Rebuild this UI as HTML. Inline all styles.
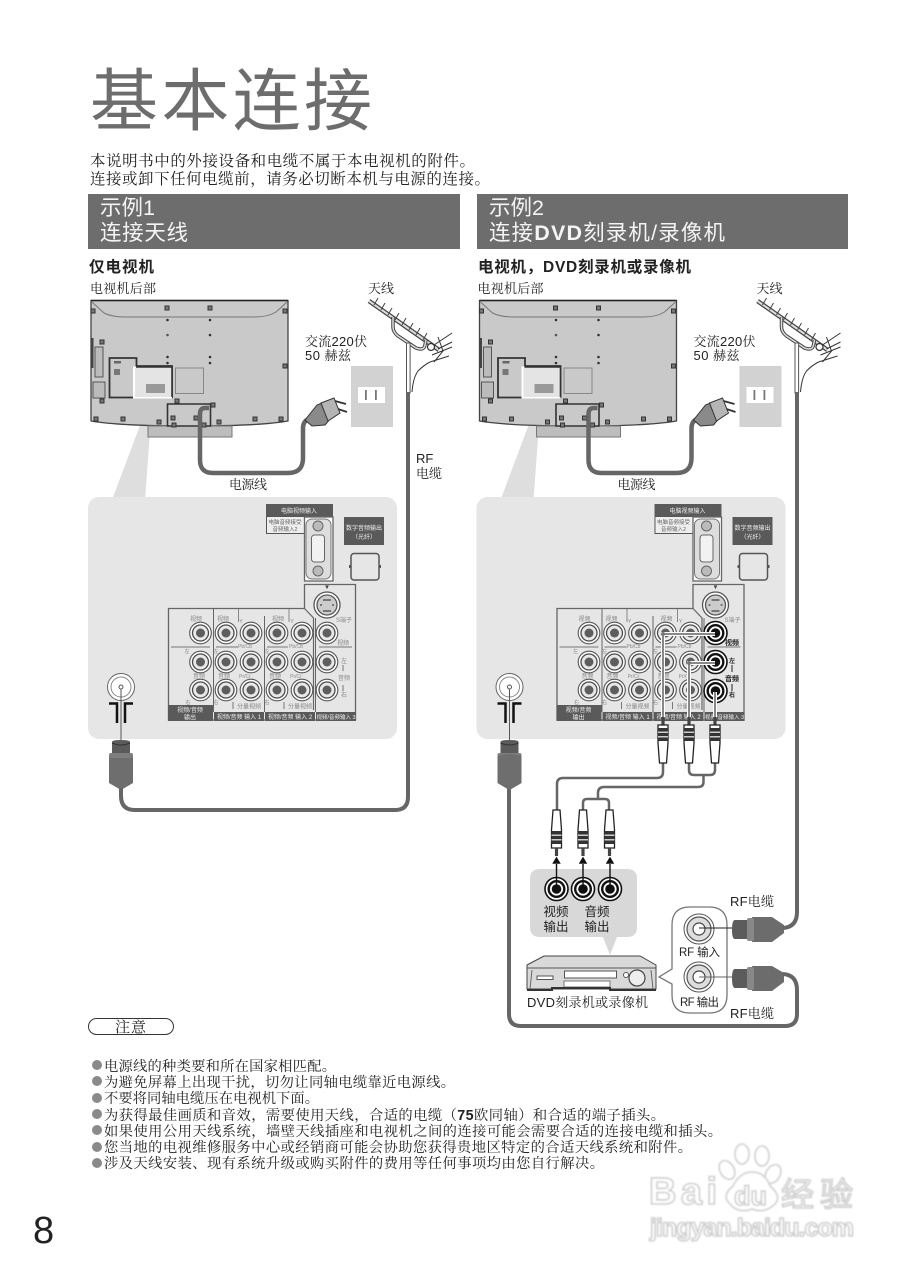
<!DOCTYPE html>
<html lang="zh"><head><meta charset="utf-8"><title>基本连接</title>
<style>
html,body{margin:0;padding:0;background:#fff}
svg{display:block}
.se{font-family:"Liberation Sans","Noto Serif CJK SC",serif;fill:#222}
.sa{font-family:"Liberation Sans","Noto Sans CJK SC",sans-serif;fill:#222}
.t{font-family:"Liberation Sans","Noto Sans CJK SC",sans-serif;font-size:6px;fill:#888;text-anchor:middle}
.w{font-family:"Liberation Sans","Noto Sans CJK SC",sans-serif;font-size:6px;fill:#eee;text-anchor:middle}
</style></head>
<body>
<svg xmlns="http://www.w3.org/2000/svg" width="912" height="1280" viewBox="0 0 912 1280">
<defs>
<filter id="b" x="-5%" y="-5%" width="110%" height="110%"><feGaussianBlur stdDeviation="0.7"/></filter>
<g id="s"><rect x="-2" y="-2" width="4" height="4" fill="#777" stroke="#333" stroke-width="1"/></g>
<g id="j"><circle r="10.800" fill="#fff" stroke="#555" stroke-width="1.100"/><circle r="8" fill="#e8e8e8" stroke="#4a4a4a" stroke-width="1.300"/><circle r="4.500" fill="#5e5e5e"/></g>
<g id="bj"><circle r="11.500" fill="#fff" stroke="#111" stroke-width="1.600"/><circle r="7.800" fill="#fff" stroke="#111" stroke-width="2.400"/><circle r="4.800" fill="#111"/></g>
<g id="up"><path d="M-1.600 0V8H1.600V0Z" fill="#444"/><path d="M-5 8H5V26L3.500 46H-3.500L-5 26Z" fill="#fff" stroke="#222" stroke-width="1.300"/><rect x="-5" y="11" width="10" height="13" fill="#333"/><rect x="-5" y="14.500" width="10" height="1.500" fill="#ccc"/><rect x="-5" y="19" width="10" height="1.500" fill="#ccc"/></g>
<g id="dn"><path d="M-3.500 0H3.500L5 20V38H-5V20Z" fill="#fff" stroke="#222" stroke-width="1.300"/><rect x="-5" y="21" width="10" height="13" fill="#333"/><rect x="-5" y="24.500" width="10" height="1.500" fill="#ccc"/><rect x="-5" y="29" width="10" height="1.500" fill="#ccc"/><path d="M-1.600 38V46H1.600V38Z" fill="#444"/></g>

<g id="tv">
<path d="M91 300.500H288V421Q260 426 190 426Q120 426 91 421Z" fill="#c9c9c9" stroke="#444" stroke-width="1.300"/>
<path d="M91 300.500H288" stroke="#222" stroke-width="1.500"/>
<path d="M92 302L104 313Q112 317 125 317H255Q268 317 276 312L287 302" fill="none" stroke="#777" stroke-width="1"/>
<rect x="148" y="426" width="84" height="11" fill="#bdbdbd" stroke="#777" stroke-width="1"/>
<rect x="91" y="338" width="2.500" height="30" fill="#444"/>
<rect x="95" y="347" width="8" height="30" fill="#bbb" stroke="#555" stroke-width="1"/>
<rect x="93" y="382" width="12" height="16" fill="#bbb" stroke="#555" stroke-width="1"/>
<path d="M109.500 358H136.500V366H172V397.500H109.500Z" fill="#c9c9c9" stroke="#333" stroke-width="1.800"/>
<rect x="133" y="366.500" width="39" height="32" fill="#fff"/>
<path d="M136 367.500H171.500V397H135V368Z" fill="#e4e4e4"/>
<path d="M136 367H172V397" fill="none" stroke="#333" stroke-width="1.600"/>
<rect x="146" y="384" width="19" height="9" fill="#999"/>
<rect x="175.500" y="368" width="28" height="25.500" fill="#c9c9c9" stroke="#888" stroke-width="1"/>
<rect x="114" y="361" width="7" height="2.500" fill="#666"/><rect x="114" y="369" width="6" height="6" fill="#777"/>
<path d="M167.500 404H210.500V426H167.500Z" fill="#c9c9c9" stroke="#333" stroke-width="1.600"/>
<use href="#s" x="167" y="308"/><use href="#s" x="210" y="308"/>
<use href="#s" x="93" y="311"/><use href="#s" x="285" y="311"/>
<use href="#s" x="102" y="342"/><use href="#s" x="285" y="366"/>
<use href="#s" x="102" y="401"/><use href="#s" x="177" y="401"/><use href="#s" x="213" y="405"/>
<use href="#s" x="96" y="419"/><use href="#s" x="123" y="419"/><use href="#s" x="159" y="422"/><use href="#s" x="219" y="422"/><use href="#s" x="255" y="419"/><use href="#s" x="281" y="419"/>
<circle cx="167.500" cy="320" r="1.300" fill="#333"/><circle cx="210" cy="320" r="1.300" fill="#333"/>
<circle cx="167.500" cy="335" r="1.300" fill="#555"/><circle cx="210" cy="335" r="1.300" fill="#333"/>
<circle cx="167.500" cy="357" r="1.300" fill="#333"/><circle cx="210" cy="357" r="1.300" fill="#333"/>
<circle cx="167.500" cy="363" r="1.300" fill="#333"/><circle cx="210" cy="363" r="1.300" fill="#333"/>
<use href="#s" x="173" y="418"/><use href="#s" x="196" y="418"/><use href="#s" x="174" y="425"/><use href="#s" x="204" y="425"/>
<path d="M209 408H205Q200 408 200 414V460Q200 473 213 473H288Q303 473 303 458V428Q303 422 308 419" fill="none" stroke="#666" stroke-width="4.500"/>
<path d="M305 420L317 405L327 401L336 412L325 425L312 426Z" fill="#8a8a8a" stroke="#333" stroke-width="1"/>
<path d="M321 403L334 398L340 413L328 421Z" fill="#b5b5b5" stroke="#333" stroke-width="1"/>
<path d="M335 401L346 404M338 409L347 412" stroke="#333" stroke-width="1.800" fill="none"/>
<rect x="351" y="366" width="42" height="61" fill="#d2d2d2"/>
<rect x="358" y="387" width="27" height="16" fill="#fff"/>
<rect x="365" y="390" width="1.800" height="10" fill="#777"/><rect x="375" y="390" width="1.800" height="10" fill="#777"/>
<!-- antenna -->
<path d="M369 301L439 350" stroke="#444" stroke-width="4.500" fill="none"/>
<path d="M369 301L439 350" stroke="#ddd" stroke-width="2" fill="none"/>
<path d="M374 305L378 298M381 310L385 303M388 315L392 308M395 320L399 313M402 325L406 318M409 330L413 323M416 335L420 328M423 340L427 333" stroke="#444" stroke-width="1" fill="none"/>
<path d="M393 317L393 327Q393 332 398 336L416 348Q424 351 425 345L426 340" fill="none" stroke="#444" stroke-width="3.500"/>
<path d="M393 317L393 327Q393 332 398 336L416 348Q424 351 425 345L426 340" fill="none" stroke="#ddd" stroke-width="1.500"/>
<rect x="406.500" y="343" width="3.600" height="50" fill="#fff" stroke="#555" stroke-width="1"/>
<circle cx="431" cy="347" r="3.500" fill="#fff" stroke="#333" stroke-width="1.200"/>
<path d="M434 345L452 333M438 349L452 342M432 355L452 347M430 362L449 356M438 337L443 351L434 362" stroke="#333" stroke-width="1" fill="none"/>
<path d="M412 392Q413 378 418 371Q424 365 430 362" fill="none" stroke="#333" stroke-width="1"/>
</g>

<g id="panel">
<rect x="88" y="497" width="309" height="242" rx="11" fill="#e6e6e6"/>
<!-- VGA -->
<rect x="266" y="504" width="67" height="12.500" fill="#5a5a5a"/>
<text class="w" x="299" y="513">电脑视频输入</text>
<rect x="266.500" y="516.500" width="38" height="17" fill="#eee" stroke="#555" stroke-width="1"/>
<text class="t" x="285" y="524" style="font-size:5.500px;fill:#666">电脑音频接受</text>
<text class="t" x="285" y="531" style="font-size:5.500px;fill:#666">音频输入2</text>
<rect x="304.500" y="517" width="28.500" height="64" fill="#fff" stroke="#666" stroke-width="1.300"/>
<rect x="306" y="519" width="25" height="60" rx="6" fill="#ddd" stroke="#777" stroke-width="1"/>
<circle cx="318" cy="526" r="5" fill="#bbb" stroke="#666"/><circle cx="318" cy="571" r="5" fill="#bbb" stroke="#666"/>
<rect x="311.500" y="535" width="13" height="27" rx="3" fill="#f2f2f2" stroke="#666" stroke-width="1"/>
<rect x="344" y="517" width="40" height="28" fill="#5a5a5a"/>
<text class="w" x="364" y="530">数字音频输出</text><text class="w" x="364" y="539">（光纤）</text>
<rect x="351" y="553.500" width="28" height="26.500" rx="3" fill="#e6e6e6" stroke="#555" stroke-width="1.500"/>
<rect x="349" y="565" width="2" height="3" fill="#555"/><rect x="379" y="565" width="2" height="3" fill="#555"/>
<!-- jack frame -->
<path d="M168.500 720V608.500H304.500V584.500H355.500V720Z" fill="#e6e6e6" stroke="#666" stroke-width="1.300"/>
<path d="M304.500 608.500L313.500 618V710" fill="none" stroke="#666" stroke-width="1.200"/>
<path d="M213.500 608.500V712M264.500 616V712M315.500 618V712" stroke="#666" stroke-width="1" fill="none"/>
<path d="M238.500 609V622M289 609V622" stroke="#888" stroke-width="1" fill="none"/>
<circle cx="327" cy="605" r="13" fill="#fff" stroke="#555" stroke-width="1.300"/><circle cx="327" cy="605" r="10" fill="#ccc" stroke="#555" stroke-width="1.300"/>
<path d="M323 600H331M320 605H322M332 605H334M323 611H331" stroke="#444" stroke-width="1.300"/>
<path d="M326 586L328 586L327 588Z" fill="#444" stroke="#444"/>
<text class="t" x="344" y="622" style="font-size:6px">S端子</text>
<text class="t" x="196" y="621">视频</text><text class="t" x="223" y="621">视频</text><text class="t" x="278" y="621">视频</text><text class="t" x="343" y="645">视频</text>
<text class="t" x="241" y="623" style="font-size:5px">Y</text><text class="t" x="292" y="623" style="font-size:5px">Y</text>
<text class="t" x="245" y="648" style="font-size:5px">Pb/Cb</text><text class="t" x="296" y="648" style="font-size:5px">Pb/Cb</text>
<text class="t" x="245" y="678" style="font-size:5px">Pr/Cr</text><text class="t" x="296" y="678" style="font-size:5px">Pr/Cr</text>
<text class="t" x="199" y="678">音频</text><text class="t" x="224" y="678">音频</text><text class="t" x="275" y="678">音频</text>
<text class="t" x="344" y="663">左</text><text class="t" x="344" y="680">音频</text><text class="t" x="344" y="697">右</text>
<text class="t" x="188" y="704" style="font-size:5px">右</text><text class="t" x="216" y="704" style="font-size:5px">右</text><text class="t" x="267" y="704" style="font-size:5px">右</text>
<text class="t" x="187" y="653" style="font-size:5px">左</text><text class="t" x="216" y="653" style="font-size:5px">左</text><text class="t" x="267" y="653" style="font-size:5px">左</text>
<path d="M171 647H210M216 647H238M267 647H288M319 647H352" stroke="#777" stroke-width="1" fill="none"/>
<path d="M343 665V671M343 685V691" stroke="#777" stroke-width="1" fill="none"/>
<path d="M233 709V702M284 709V702" stroke="#777" stroke-width="1" fill="none"/>
<text class="t" x="249" y="708.500" style="font-size:6px">分量视频</text><text class="t" x="300" y="708.500" style="font-size:6px">分量视频</text>
<rect x="168" y="705" width="45" height="16" fill="#5a5a5a"/>
<rect x="214" y="712" width="50" height="9" fill="#5a5a5a"/>
<rect x="265" y="712" width="50" height="9" fill="#5a5a5a"/>
<rect x="316" y="712" width="40" height="9" fill="#5a5a5a"/>
<text class="w" x="190" y="712">视频/音频</text><text class="w" x="190" y="719.500">输出</text>
<text class="w" x="239" y="719">视频/音频 输入 1</text><text class="w" x="290" y="719">视频/音频 输入 2</text>
<text class="w" x="336" y="719" style="font-size:5.500px">视频/音频输入 3</text>
<g id="jacks5">
<use href="#j" x="200.500" y="633"/><use href="#j" x="226" y="633"/><use href="#j" x="251" y="633"/><use href="#j" x="277" y="633"/><use href="#j" x="302" y="633"/><use href="#j" x="327" y="633"/>
<use href="#j" x="200.500" y="662"/><use href="#j" x="226" y="662"/><use href="#j" x="251" y="662"/><use href="#j" x="277" y="662"/><use href="#j" x="302" y="662"/><use href="#j" x="327" y="662"/>
<use href="#j" x="200.500" y="690"/><use href="#j" x="226" y="690"/><use href="#j" x="251" y="690"/><use href="#j" x="277" y="690"/><use href="#j" x="302" y="690"/><use href="#j" x="327" y="690"/>
</g>
<!-- antenna socket -->
<circle cx="121" cy="687" r="13.500" fill="#fff" stroke="#666" stroke-width="1"/>
<circle cx="121" cy="687" r="10" fill="none" stroke="#888" stroke-width="1"/>
<circle cx="121" cy="687" r="2" fill="none" stroke="#555" stroke-width="1"/>
<path d="M109 703.500H117V723M133 703.500H125V723" fill="none" stroke="#111" stroke-width="2.500"/>
<path d="M121 689V741" stroke="#555" stroke-width="1"/>
<path d="M112 742Q112 740 121 740Q130 740 130 742V754H112Z" fill="#5b5b5b"/>
<path d="M112 743Q121 747 130 743" fill="none" stroke="#333" stroke-width="1"/>
<path d="M109 756Q121 752 133 756V783L121 790L109 783Z" fill="#6e6e6e"/>
<rect x="109" y="753" width="24" height="5" rx="2" fill="#7e7e7e"/>
</g>
</defs>

<rect width="912" height="1280" fill="#fff"/>

<!-- title -->
<text class="sa" x="90" y="125" font-size="68" textLength="282" lengthAdjust="spacing" style="fill:#6d6d6d">基本连接</text>
<text class="se" x="90" y="166" font-size="15.500" textLength="385" lengthAdjust="spacing">本说明书中的外接设备和电缆不属于本电视机的附件。</text>
<text class="se" x="90" y="184" font-size="15.500" textLength="400" lengthAdjust="spacing">连接或卸下任何电缆前，请务必切断本机与电源的连接。</text>

<rect x="88" y="194" width="372" height="55" fill="#6d6d6d"/>
<rect x="477" y="194" width="371" height="55" fill="#6d6d6d"/>
<g font-size="21.500">
<text x="100" y="215" style="fill:#f4f4f4" class="sa">示例1</text>
<text x="100" y="240" style="fill:#f4f4f4" class="sa" textLength="88" lengthAdjust="spacing">连接天线</text>
<text x="489" y="215" style="fill:#f4f4f4" class="sa">示例2</text>
<text x="489" y="240" style="fill:#f4f4f4" class="sa" textLength="236" lengthAdjust="spacing">连接<tspan font-weight="bold">DVD</tspan>刻录机/录像机</text>
</g>

<text class="sa" x="89" y="272" font-size="15.500" font-weight="bold" textLength="65" lengthAdjust="spacing">仅电视机</text>
<text class="sa" x="478" y="272" font-size="15.500" font-weight="bold" textLength="213" lengthAdjust="spacing">电视机，DVD刻录机或录像机</text>

<!-- left -->
<path d="M148 404L112 500H145L152 404Z" fill="#dedede"/>
<use href="#panel"/>
<use href="#tv"/>
<path d="M121 788V796Q121 810 135 810H395Q408 810 408 797V392" fill="none" stroke="#666" stroke-width="4"/>
<text class="se" x="90" y="293" font-size="13" textLength="66" lengthAdjust="spacing">电视机后部</text>
<text class="se" x="368" y="293" font-size="13">天线</text>
<text class="se" x="305" y="346" font-size="13" textLength="62" lengthAdjust="spacing">交流220伏</text>
<text class="se" x="305" y="360" font-size="13" textLength="46" lengthAdjust="spacing">50 赫兹</text>
<text class="se" x="229" y="489" font-size="13" textLength="38" lengthAdjust="spacing">电源线</text>
<text class="sa" x="416" y="463" font-size="13">RF</text>
<text class="se" x="416" y="478" font-size="13">电缆</text>

<!-- right -->
<g transform="translate(388.500 0)">
<path d="M148 404L112 500H145L152 404Z" fill="#dedede"/>
<use href="#panel"/>
<use href="#tv"/>
<text class="se" x="89" y="293" font-size="13" textLength="66" lengthAdjust="spacing">电视机后部</text>
<text class="se" x="368" y="293" font-size="13">天线</text>
<text class="se" x="305" y="346" font-size="13" textLength="62" lengthAdjust="spacing">交流220伏</text>
<text class="se" x="305" y="360" font-size="13" textLength="46" lengthAdjust="spacing">50 赫兹</text>
<text class="se" x="229" y="489" font-size="13" textLength="38" lengthAdjust="spacing">电源线</text>
</g>

<!-- RCA input overlay -->
<rect x="724" y="638" width="19" height="8" fill="#e6e6e6"/>
<rect x="720" y="655" width="23" height="47" fill="#e6e6e6"/>
<use href="#bj" x="715.500" y="633"/><use href="#bj" x="715.500" y="662"/><use href="#bj" x="715.500" y="691"/>
<g fill="none">
<path d="M663 717V634H715M689 717V663H715M715 717V692" stroke="#fff" stroke-width="4"/>
<path d="M663 717V634H715M689 717V663H715M715 717V692" stroke="#888" stroke-width="2"/>
</g>
<circle cx="663" cy="634" r="2" fill="#777"/><circle cx="689" cy="663" r="2" fill="#777"/>
<text class="sa" x="732" y="645" font-size="7" font-weight="bold" text-anchor="middle">视频</text>
<text class="sa" x="732" y="663" font-size="6" font-weight="bold" text-anchor="middle">左</text>
<text class="sa" x="732" y="681" font-size="7" font-weight="bold" text-anchor="middle">音频</text>
<text class="sa" x="732" y="697" font-size="6" font-weight="bold" text-anchor="middle">右</text>
<path d="M732 665V672M732 684V691" stroke="#222" stroke-width="1"/>

<path d="M663 760V772Q663 778 657 778H563Q557 778 557 784V812" fill="none" stroke="#666" stroke-width="2.500"/>
<path d="M689 760V770Q689 775 694 775H710Q715 775 715 770V760M703.500 775V782Q703.500 787 698 787H604Q598 787 598 793V799M583 810V803Q583 799 587 799H605Q609 799 609 803V810" fill="none" stroke="#666" stroke-width="2.500"/>
<use href="#up" x="663" y="717"/><use href="#up" x="689" y="717"/><use href="#up" x="715" y="717"/>
<use href="#dn" x="556.500" y="810"/><use href="#dn" x="583" y="810"/><use href="#dn" x="609.500" y="810"/>

<!-- source bubble -->
<path d="M540 869H627Q637 869 637 879V927Q637 937 627 937H617L610 955L603 937H540Q530 937 530 927V879Q530 869 540 869Z" fill="#d8d8d8"/>
<use href="#bj" x="556.500" y="889"/><use href="#bj" x="583" y="889"/><use href="#bj" x="610" y="889"/>
<g stroke="#111" stroke-width="1.400" fill="#111">
<path d="M556.500 864V888M583 864V888M610 864V888" fill="none"/>
<path d="M553.500 863L556.500 858L559.500 863ZM580 863L583 858L586 863ZM607 863L610 858L613 863Z"/>
</g>
<g font-size="12.500" text-anchor="middle">
<text class="sa" x="556" y="916">视频</text><text class="sa" x="556" y="931">输出</text>
<text class="sa" x="597" y="916">音频</text><text class="sa" x="597" y="931">输出</text>
</g>

<!-- DVD -->
<path d="M527 965L544 956H640L656 965V989H527Z" fill="#d9d9d9" stroke="#444" stroke-width="1"/>
<path d="M527 968H656" stroke="#555" stroke-width="1"/>
<path d="M532 970L530 989M651 970L653 989" stroke="#666" stroke-width="1" fill="none"/>
<rect x="537" y="976" width="16" height="3.500" fill="#fff" stroke="#555" stroke-width="1"/>
<rect x="564.500" y="971" width="52" height="7" fill="#fff" stroke="#555" stroke-width="1"/>
<path d="M564 981H610V987H564Z" fill="#fff" stroke="#777" stroke-width="1"/>
<circle cx="637" cy="978" r="8" fill="#eee" stroke="#444" stroke-width="1.200"/>
<circle cx="626" cy="975" r="2.500" fill="#fff" stroke="#555"/>
<path d="M527 990H552V988H610V990H656" stroke="#333" stroke-width="2" fill="none"/>
<text class="sa" x="527" y="1007" font-size="13" textLength="121" lengthAdjust="spacing">DVD<tspan font-family="Noto Serif CJK SC">刻录机或录像机</tspan></text>

<!-- RF box -->
<path d="M690 907H709Q727 907 727 925V995Q727 1013 709 1013H690Q672 1013 672 995V984L659 977L672 969V925Q672 907 690 907Z" fill="#fff" stroke="#777" stroke-width="1.300"/>
<circle cx="699" cy="929" r="15" fill="#fff" stroke="#555" stroke-width="1"/><circle cx="699" cy="929" r="12" fill="#ddd" stroke="#555" stroke-width="1.200"/><circle cx="699" cy="929" r="6" fill="#fff" stroke="#444" stroke-width="1.200"/>
<circle cx="699" cy="977" r="15" fill="#fff" stroke="#555" stroke-width="1"/><circle cx="699" cy="977" r="12" fill="#ddd" stroke="#555" stroke-width="1.200"/><circle cx="699" cy="977" r="6" fill="#fff" stroke="#444" stroke-width="1.200"/>
<path d="M699 928H735" stroke="#222" stroke-width="1"/><path d="M699 977H735" stroke="#666" stroke-width="1"/>
<text class="sa" x="679" y="956" font-size="11.500" textLength="41" lengthAdjust="spacing">RF 输入</text>
<text class="sa" x="680" y="1006" font-size="11.500" textLength="39" lengthAdjust="spacing">RF 输出</text>
<!-- RF plugs -->
<g fill="#6c6c6c">
<path d="M735 920H750V939H735Q732 939 732 930Q732 920 735 920Z" fill="#5c5c5c"/>
<path d="M752 917H772L784 925V933L772 942H752Z"/>
<rect x="747" y="918" width="7" height="23" rx="2" fill="#888"/>
<path d="M735 969H750V988H735Q732 988 732 978Q732 969 735 969Z" fill="#5c5c5c"/>
<path d="M752 966H772L784 973V982L772 991H752Z"/>
<rect x="747" y="967" width="7" height="23" rx="2" fill="#888"/>
</g>
<path d="M783 928Q797 927 797 912V392" fill="none" stroke="#666" stroke-width="4"/>
<path d="M783 974Q797 975 797 990V1014Q797 1026 785 1026H521Q509 1026 509 1014V788" fill="none" stroke="#666" stroke-width="4"/>
<g transform="translate(388.500 0)">
<path d="M109 756Q121 752 133 756V783L121 790L109 783Z" fill="#6e6e6e"/>
</g>
<text class="sa" x="730" y="906" font-size="13" textLength="44" lengthAdjust="spacing">RF<tspan font-family="Noto Serif CJK SC">电缆</tspan></text>
<text class="sa" x="730" y="1018" font-size="13" textLength="44" lengthAdjust="spacing">RF<tspan font-family="Noto Serif CJK SC">电缆</tspan></text>

<!-- note -->
<rect x="88.500" y="1018.500" width="85" height="16" rx="8" fill="#fff" stroke="#333" stroke-width="1"/>
<text class="se" x="115" y="1032" font-size="15" textLength="31" lengthAdjust="spacing">注意</text>
<g fill="#8a8a8a">
<circle cx="97" cy="1065" r="5"/><circle cx="97" cy="1081" r="5"/><circle cx="97" cy="1098" r="5"/><circle cx="97" cy="1114" r="5"/><circle cx="97" cy="1130" r="5"/><circle cx="97" cy="1147" r="5"/><circle cx="97" cy="1163" r="5"/>
</g>
<g font-size="14.300">
<text class="se" x="104" y="1071" textLength="232" lengthAdjust="spacing">电源线的种类要和所在国家相匹配。</text>
<text class="se" x="104" y="1087" textLength="351" lengthAdjust="spacing">为避免屏幕上出现干扰，切勿让同轴电缆靠近电源线。</text>
<text class="se" x="104" y="1103" textLength="215" lengthAdjust="spacing">不要将同轴电缆压在电视机下面。</text>
<text class="se" x="104" y="1120" textLength="561" lengthAdjust="spacing">为获得最佳画质和音效，需要使用天线，合适的电缆（<tspan font-weight="bold" font-family="Liberation Sans">75</tspan>欧同轴）和合适的端子插头。</text>
<text class="se" x="104" y="1136" textLength="618" lengthAdjust="spacing">如果使用公用天线系统，墙壁天线插座和电视机之间的连接可能会需要合适的连接电缆和插头。</text>
<text class="se" x="104" y="1152" textLength="588" lengthAdjust="spacing">您当地的电视维修服务中心或经销商可能会协助您获得贵地区特定的合适天线系统和附件。</text>
<text class="se" x="104" y="1168" textLength="500" lengthAdjust="spacing">涉及天线安装、现有系统升级或购买附件的费用等任何事项均由您自行解决。</text>
</g>

<!-- page number -->
<text class="sa" x="33" y="1243" font-size="38" style="fill:#222">8</text>

<!-- watermark -->
<g filter="url(#b)">
<g fill="#fff" stroke="#d4d4d4" stroke-width="1.800">
<ellipse cx="727" cy="1170" rx="7" ry="10" transform="rotate(-30 727 1170)"/>
<ellipse cx="742" cy="1154" rx="7" ry="10"/>
<ellipse cx="762" cy="1156" rx="7" ry="10"/>
<ellipse cx="773" cy="1174" rx="7" ry="10" transform="rotate(30 773 1174)"/>
<path d="M752 1172Q765 1172 770 1186Q782 1196 775 1204Q765 1214 752 1209Q738 1214 730 1204Q721 1196 733 1186Q740 1172 752 1172Z"/>
</g>
<g font-family="Liberation Sans,sans-serif" fill="#fff" stroke="#cfcfcf" stroke-width="1.600">
<text x="649" y="1204" font-size="38" font-weight="bold" textLength="68" lengthAdjust="spacing">Bai</text>
<text x="734" y="1205" font-size="27" font-weight="bold">du</text>
<text x="781" y="1206" font-size="33" font-family="Noto Sans CJK SC" textLength="72" lengthAdjust="spacing">经验</text>
<text x="650" y="1236" font-size="25" font-weight="bold" textLength="204" lengthAdjust="spacing">jingyan.baidu.com</text>
</g>
</g>
</svg>
</body></html>
